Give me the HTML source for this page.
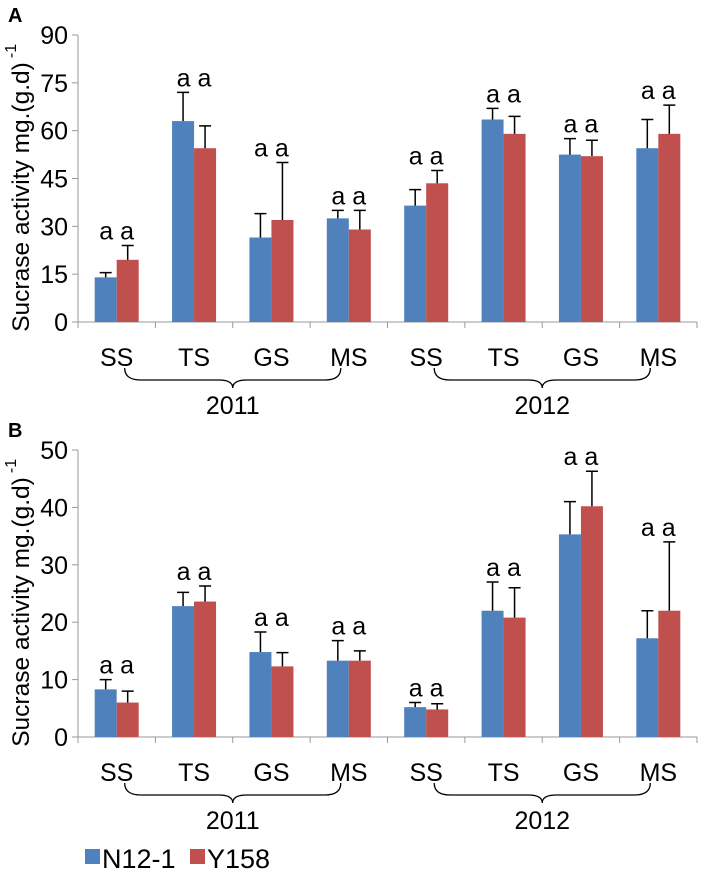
<!DOCTYPE html>
<html><head><meta charset="utf-8">
<style>
body{margin:0;background:#fff;}
svg{display:block;font-family:"Liberation Sans",Arial,sans-serif;}
</style></head>
<body>
<svg id="chart" width="704" height="876" viewBox="0 0 704 876" xmlns="http://www.w3.org/2000/svg"></svg>
<script>
const categories = ["SS","TS","GS","MS","SS","TS","GS","MS"];
const years = ["2011","2012"];
const seriesNames = ["N12-1","Y158"];
const aN12 = [14,63,26.5,32.5,36.5,63.5,52.5,54.5];
const aN12Err = [1.5,9,7.5,2.5,5,3.5,5,9];
const aY158 = [19.5,54.5,32,29,43.5,59,52,59];
const aY158Err = [4.5,7,18,6,4,5.5,5,9];
const bN12 = [8.3,22.8,14.8,13.3,5.2,22,35.3,17.2];
const bN12Err = [1.7,2.4,3.5,3.5,0.8,5,5.7,4.8];
const bY158 = [6,23.6,12.3,13.3,4.8,20.8,40.2,22];
const bY158Err = [2,2.7,2.4,1.7,1,5.2,6.1,12];
const aTicks = [0,15,30,45,60,75,90];
const bTicks = [0,10,20,30,40,50];

const NS="http://www.w3.org/2000/svg";
const svg=document.getElementById('chart');
function mk(tag,attrs,parent){const e=document.createElementNS(NS,tag);for(const k in attrs)e.setAttribute(k,attrs[k]);(parent||svg).appendChild(e);return e;}
const colors=["#4f81bd","#c0504d"];
const X0=78,X1=697,N=categories.length,step=(X1-X0)/N,BW=22;
function xCenter(i){return X0+step*(i+0.5);}

function panel(id,letter,y0,yTop,max,ticks,s1,e1,s2,e2){
  const g=mk('g',{});
  
  
  const yS=v=>y0-(v/max)*(y0-yTop);
  const L=mk('text',{x:8,y:yTop-13,'font-size':20,'font-weight':'bold',fill:'#000'},g);L.textContent=letter;
  
  
  const ax=mk('line',{x1:X0,y1:yTop,x2:X0,y2:y0,stroke:'#999','stroke-width':1},g);
  
  
  ticks.forEach(t=>{
    mk('line',{x1:X0-6,x2:X0,y1:yS(t),y2:yS(t),stroke:'#999'},g);
    const tx=mk('text',{x:X0-10,y:yS(t)+9,'font-size':25,'text-anchor':'end',fill:'#000'},g);
    tx.textContent=t;
    
    
  });
  const xa=mk('line',{x1:X0,y1:y0,x2:X1,y2:y0,stroke:'#999'},g);
  
  
  for(let i=0;i<=N;i++)mk('line',{x1:X0+step*i,x2:X0+step*i,y1:y0,y2:y0+6,stroke:'#999'},g);
  const yt=mk('text',{transform:`translate(29,${yTop+162}) rotate(-90)`,'font-size':24.5,'text-anchor':'middle',fill:'#000'},g);
  yt.textContent='Sucrase activity mg.(g.d)';
  
  
  const sup=mk('text',{transform:`translate(16,${yTop+16}) rotate(-90)`,'font-size':16,'text-anchor':'middle',fill:'#000'},g);
  sup.textContent='-1';
  
  
  [[s1,e1],[s2,e2]].forEach((pair,si)=>{
    pair[0].forEach((v,i)=>{
      const x=xCenter(i)-BW+si*BW;
      const r=mk('rect',{x:x,y:yS(v),width:BW,height:y0-yS(v),fill:colors[si]},g);
      
      
      const cx=x+BW/2,top=yS(v+pair[1][i]);
      const eb=mk('path',{d:`M${cx},${yS(v)}V${top}M${cx-6},${top}H${cx+6}`,stroke:'#000','stroke-width':1.5,fill:'none'},g);
      
      
    });
  });
  categories.forEach((c,i)=>{
    const top=Math.min(yS(s1[i]+e1[i]),yS(s2[i]+e2[i]));
    const a=mk('text',{x:xCenter(i),y:top-6,'font-size':25,'text-anchor':'middle',fill:'#000'},g);
    a.textContent='a a';
    
    
    const t=mk('text',{x:xCenter(i),y:y0+44,'font-size':25,'text-anchor':'middle',fill:'#000'},g);
    t.textContent=c;
    
    
  });
  years.forEach((yr,k)=>{
    const xa1=xCenter(k*4)+8,xa2=xCenter(k*4+3)-8,xm=(xa1+xa2)/2,by=y0+46;
    const br=mk('path',{d:`M${xa1},${by} Q${xa1},${by+12} ${xa1+16},${by+12} H${xm-14} Q${xm},${by+12} ${xm},${by+20} Q${xm},${by+12} ${xm+14},${by+12} H${xa2-16} Q${xa2},${by+12} ${xa2},${by}`,stroke:'#000','stroke-width':1.3,fill:'none'},g);
    
    
    const yl=mk('text',{x:xm,y:by+46,'font-size':25,'text-anchor':'middle',fill:'#000'},g);
    yl.textContent=yr;
    
    
  });
}
panel('a','A',322,35,90,aTicks,aN12,aN12Err,aY158,aY158Err);
panel('b','B',737,450,50,bTicks,bN12,bN12Err,bY158,bY158Err);

const lg=mk('g',{});


seriesNames.forEach((n,i)=>{
  const x=i===0?85:190;
  const r=mk('rect',{x:x,y:849,width:15,height:15,fill:colors[i]},lg);
  
  
  const t=mk('text',{x:x+17,y:868,'font-size':27,fill:'#000'},lg);
  t.textContent=n;
  
  
});
</script>
</body></html>
